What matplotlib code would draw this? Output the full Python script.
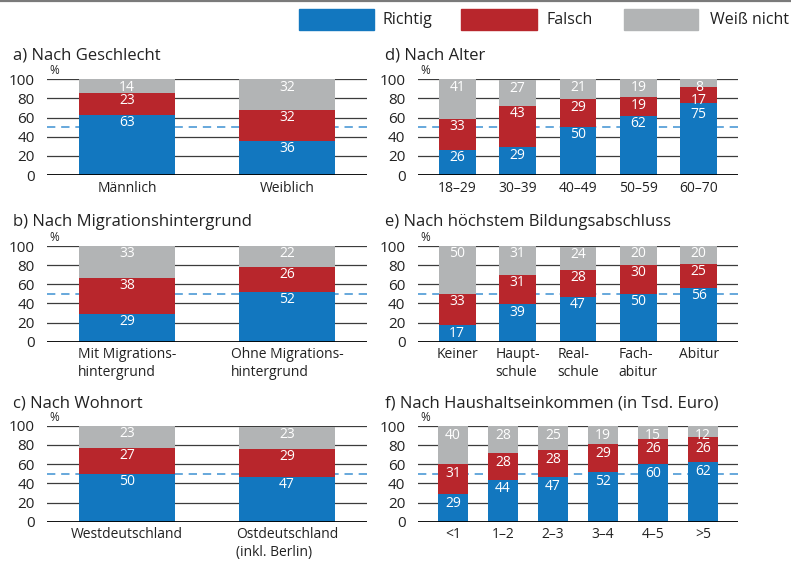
import matplotlib
matplotlib.use("Agg")
import matplotlib.pyplot as plt
from matplotlib.patches import Rectangle
from matplotlib.lines import Line2D

plt.rcParams['font.family'] = ['Open Sans', 'DejaVu Sans']

# ---- data ----
legend_labels = ["Richtig", "Falsch", "Weiß nicht"]
colors = ["#1277bf", "#b8262c", "#b2b4b5"]

a_title = "a) Nach Geschlecht"
a_cats = ["Männlich", "Weiblich"]
a_richtig = [63, 36]
a_falsch = [23, 32]
a_weiss = [14, 32]

b_title = "b) Nach Migrationshintergrund"
b_cats = ["Mit Migrations-\nhintergrund", "Ohne Migrations-\nhintergrund"]
b_richtig = [29, 52]
b_falsch = [38, 26]
b_weiss = [33, 22]

c_title = "c) Nach Wohnort"
c_cats = ["Westdeutschland", "Ostdeutschland\n(inkl. Berlin)"]
c_richtig = [50, 47]
c_falsch = [27, 29]
c_weiss = [23, 23]

d_title = "d) Nach Alter"
d_cats = ["18–29", "30–39", "40–49", "50–59", "60–70"]
d_richtig = [26, 29, 50, 62, 75]
d_falsch = [33, 43, 29, 19, 17]
d_weiss = [41, 27, 21, 19, 8]

e_title = "e) Nach höchstem Bildungsabschluss"
e_cats = ["Keiner", "Haupt-\nschule", "Real-\nschule", "Fach-\nabitur", "Abitur"]
e_richtig = [17, 39, 47, 50, 56]
e_falsch = [33, 31, 28, 30, 25]
e_weiss = [50, 31, 24, 20, 20]

f_title = "f) Nach Haushaltseinkommen (in Tsd. Euro)"
f_cats = ["<1", "1–2", "2–3", "3–4", "4–5", ">5"]
f_richtig = [29, 44, 47, 52, 60, 62]
f_falsch = [31, 28, 28, 29, 26, 26]
f_weiss = [40, 28, 25, 19, 15, 12]

yticks = [0, 20, 40, 60, 80, 100]
ref_line = 50

W, H = 791, 562
fig = plt.figure(figsize=(W / 100, H / 100), dpi=100)
TXT = "#222222"


def px_axes(x0, x1, ytop, ybot):
    return fig.add_axes([x0 / W, 1 - ybot / H, (x1 - x0) / W, (ybot - ytop) / H])


def panel(ax, title, title_xy, cats, r, f, w, xlim, width, lab_off_px=11.3):
    xs = list(range(len(cats)))
    for y in yticks[1:]:
        ax.axhline(y, color="#3c3c3c", lw=0.9, zorder=0)
    ax.axhline(ref_line, color="#4d9ad6", lw=1.2, ls=(0, (5, 3.5)), zorder=0.5)
    ax.set_xlim(*xlim)
    ax.set_ylim(0, 100)
    ppu = ax.bbox.height / 100.0  # pixels per data unit
    series = [r, f, w]
    bottoms = [0] * len(cats)
    tops_all = []
    for vals, col in zip(series, colors):
        ax.bar(xs, vals, width=width, bottom=bottoms, color=col, zorder=2)
        tops_all.append([min(b + v, 100) for b, v in zip(bottoms, vals)])
        bottoms = [b + v for b, v in zip(bottoms, vals)]
    # value labels, placed from the top segment downwards, avoiding overlaps
    min_sep = 13.5 / ppu
    for i, x in enumerate(xs):
        prev = None
        for k in range(len(series) - 1, -1, -1):
            y = tops_all[k][i] - lab_off_px / ppu
            if prev is not None:
                y = min(y, prev - min_sep)
            prev = y
            ax.text(x, y, str(series[k][i]), ha="center", va="baseline",
                    color="white", fontsize=10, zorder=4)
    ax.axhline(0, color="black", lw=1.3, zorder=3)
    ax.set_yticks(yticks)
    ax.set_xticks(xs)
    ax.set_xticklabels(cats, multialignment="left", linespacing=1.22)
    ax.tick_params(axis="both", length=0, colors=TXT)
    ax.tick_params(axis="x", labelsize=10, pad=4)
    ax.tick_params(axis="y", labelsize=11, pad=9)
    for s in ax.spines.values():
        s.set_visible(False)
    ax.annotate("%", xy=(0, 1), xycoords="axes fraction", xytext=(1.5, 1.5),
                textcoords="offset points", ha="left", va="bottom", fontsize=8.5,
                color=TXT)
    fig.text(title_xy[0] / W, 1 - title_xy[1] / H, title, fontsize=12,
             ha="left", va="baseline", color=TXT)


ax = px_axes(47, 367, 79.3, 175)
panel(ax, a_title, (13, 59), a_cats, a_richtig, a_falsch, a_weiss, (-0.5, 1.5), 0.6)
ax = px_axes(47, 367, 246, 341.7)
panel(ax, b_title, (13, 226), b_cats, b_richtig, b_falsch, b_weiss, (-0.5, 1.5), 0.6)
ax = px_axes(47, 367, 425.7, 521.7)
panel(ax, c_title, (13, 408), c_cats, c_richtig, c_falsch, c_weiss, (-0.5, 1.5), 0.6)
ax = px_axes(418, 738, 79.3, 175)
panel(ax, d_title, (385, 59), d_cats, d_richtig, d_falsch, d_weiss, (-0.65, 4.65), 0.61)
ax = px_axes(418, 738, 246, 341.7)
panel(ax, e_title, (385, 226), e_cats, e_richtig, e_falsch, e_weiss, (-0.65, 4.65), 0.61)
ax = px_axes(418, 738, 426, 521.7)
panel(ax, f_title, (385, 408), f_cats, f_richtig, f_falsch, f_weiss, (-0.7, 5.7), 0.6,
      lab_off_px=12.8)

# top rule
fig.add_artist(Line2D([0, 1], [1 - 1.2 / H, 1 - 1.2 / H], color="#7a7a7a", lw=1.6,
                      transform=fig.transFigure))

# legend
leg_pos = [(299, 374, 382), (461, 537, 547), (624, 698, 710)]
for (x0, x1, tx), lab, col in zip(leg_pos, legend_labels, colors):
    fig.add_artist(Rectangle((x0 / W, 1 - 30 / H), (x1 - x0) / W, 21 / H,
                             color=col, transform=fig.transFigure))
    fig.text(tx / W, 1 - 19.5 / H, lab, fontsize=11.5, ha="left", va="center",
             color=TXT)

fig.savefig("out.png", dpi=100)
